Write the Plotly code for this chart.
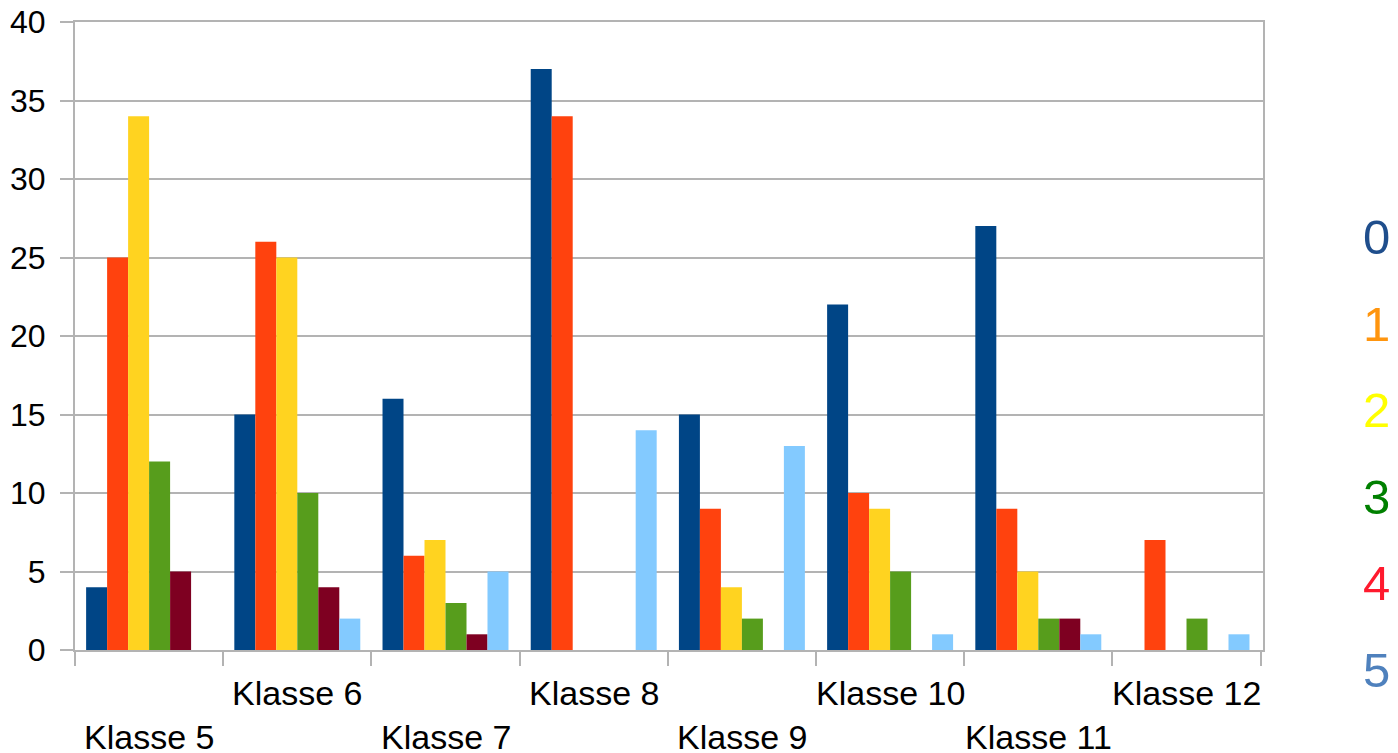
import plotly.graph_objects as go

categories = ["Klasse 5", "Klasse 6", "Klasse 7", "Klasse 8", "Klasse 9", "Klasse 10", "Klasse 11", "Klasse 12"]
series_names = ["0", "1", "2", "3", "4", "5"]
s0 = [4, 15, 16, 37, 15, 22, 27, 0]
s1 = [25, 26, 6, 34, 9, 10, 9, 7]
s2 = [34, 25, 7, 0, 4, 9, 5, 0]
s3 = [12, 10, 3, 0, 2, 5, 2, 2]
s4 = [5, 4, 1, 0, 0, 0, 2, 0]
s5 = [0, 2, 5, 14, 13, 1, 1, 1]
series_values = [s0, s1, s2, s3, s4, s5]
y_ticks = [0, 5, 10, 15, 20, 25, 30, 35, 40]

bar_colors = ["#004586", "#ff420e", "#ffd320", "#579d1c", "#7e0021", "#83caff"]
legend_colors = ["#1f4e8c", "#ff950e", "#ffff00", "#008000", "#ff1a2e", "#4f81bd"]

FONT = "Liberation Sans, Arial, sans-serif"
W, H = 1398, 753
L, T = 75, 22
PLOT_W = 1188
PLOT_H = 628
R = W - L - PLOT_W
B = H - T - PLOT_H

fig = go.Figure()
for name, vals, col in zip(series_names, series_values, bar_colors):
    fig.add_trace(go.Bar(x=categories, y=vals, name=name, marker=dict(color=col, line=dict(width=0)),
                         showlegend=False, hoverinfo="skip"))

annotations = []
for i, c in enumerate(categories):
    annotations.append(dict(x=c, xref="x", y=0, yref="paper", yanchor="middle",
                            yshift=-43 if i % 2 == 1 else -87, text=c, showarrow=False,
                            font=dict(family=FONT, size=34, color="#000000")))

for i, (name, col) in enumerate(zip(series_names, legend_colors)):
    ypix = 237 + 86.6 * i - T  # relative to plot top
    annotations.append(dict(x=(1376 - L) / PLOT_W, xref="paper", y=1 - ypix / PLOT_H, yref="paper",
                            xanchor="center", yanchor="middle", text=name, showarrow=False,
                            font=dict(family=FONT, size=49, color=col)))

fig.update_layout(
    width=W, height=H,
    margin=dict(l=L, r=R, t=T, b=B, pad=0),
    paper_bgcolor="white", plot_bgcolor="white",
    barmode="group", bargap=0.15, bargroupgap=0,
    annotations=annotations,
    font=dict(family=FONT, color="#000000"),
)
fig.update_xaxes(type="category", showgrid=False, showline=True, linecolor="#b3b3b3", linewidth=2,
                 mirror=True, ticks="outside", tickson="boundaries", ticklen=14, tickwidth=2,
                 tickcolor="#b3b3b3", showticklabels=False, automargin=False)
fig.update_yaxes(range=[0, 40], tickvals=y_ticks, showgrid=True, gridcolor="#b3b3b3", gridwidth=2,
                 showline=True, linecolor="#b3b3b3", linewidth=2, mirror=True,
                 ticks="outside", ticklen=13, tickwidth=2, tickcolor="#b3b3b3",
                 ticklabelstandoff=8,
                 tickfont=dict(family=FONT, size=32, color="#000000"), zeroline=False, automargin=False)

fig.write_html("out.html", config={"displayModeBar": False},
               post_script="document.body.style.margin='0px';document.body.style.overflow='hidden';")
